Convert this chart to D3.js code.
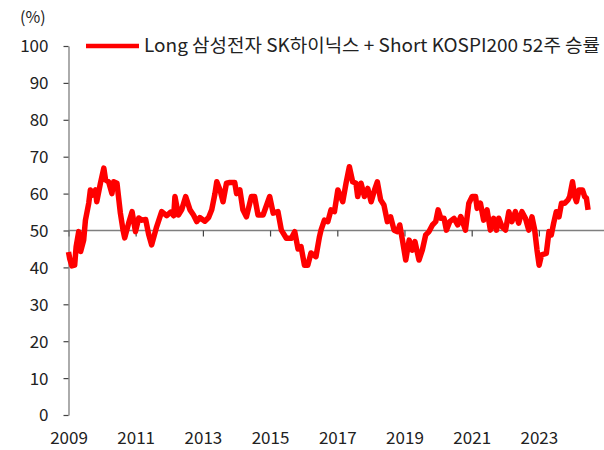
<!DOCTYPE html>
<html>
<head>
<meta charset="utf-8">
<script src="https://cdn.jsdelivr.net/npm/d3@7"></script>
<style>
  body { margin: 0; background: #fff; }
  text { font-family: "Noto Sans CJK KR", "Noto Sans", sans-serif; fill: #222; }
</style>
</head>
<body>
<div id="chart-1"></div>
<script>
var seriesName = "Long 삼성전자 SK하이닉스 + Short KOSPI200 52주 승률";

var dates = [
  "2009-01-01","2009-01-15","2009-02-07","2009-03-09","2009-03-25","2009-04-22","2009-05-13","2009-06-15",
  "2009-07-04","2009-08-09","2009-08-27","2009-09-22","2009-10-21","2009-11-04","2009-12-14",
  "2010-01-20","2010-02-08","2010-03-13","2010-04-18","2010-05-07","2010-06-12","2010-07-19",
  "2010-08-17","2010-09-04","2010-10-17","2010-11-23","2010-12-30",
  "2011-02-04","2011-03-10","2011-04-20","2011-05-22","2011-06-24","2011-08-17","2011-10-11","2011-12-04",
  "2012-01-17","2012-02-19","2012-03-03","2012-04-10","2012-05-15","2012-06-28","2012-08-14",
  "2012-09-21","2012-10-26","2012-11-28",
  "2013-01-22","2013-03-04","2013-04-07","2013-05-12","2013-06-01","2013-07-06","2013-08-08",
  "2013-09-14","2013-10-20","2013-12-13",
  "2014-01-02","2014-02-07","2014-03-12","2014-04-19","2014-06-12","2014-07-17","2014-08-23",
  "2014-10-17","2014-12-28",
  "2015-02-04","2015-03-28","2015-05-04","2015-06-27","2015-08-21","2015-09-26","2015-11-01","2015-12-04",
  "2016-01-10","2016-02-15","2016-03-21","2016-05-14","2016-06-21","2016-07-08","2016-08-14",
  "2016-09-20","2016-10-25","2016-12-01",
  "2017-01-07","2017-03-01","2017-04-06","2017-05-12","2017-06-17","2017-07-23","2017-08-11",
  "2017-09-16","2017-10-23","2017-11-28",
  "2018-01-04","2018-02-10","2018-03-12","2018-04-17","2018-05-23","2018-06-29","2018-08-04",
  "2018-09-10","2018-10-17","2018-11-11","2018-12-10",
  "2019-01-15","2019-02-21","2019-03-27","2019-04-25","2019-06-08","2019-07-14","2019-08-20",
  "2019-09-25","2019-11-01","2019-12-07",
  "2020-01-02","2020-02-01","2020-03-06","2020-04-01","2020-05-07","2020-06-23","2020-08-02",
  "2020-09-04","2020-10-25","2020-12-01",
  "2021-01-06","2021-02-12","2021-03-01","2021-04-06","2021-05-11","2021-06-17","2021-07-23",
  "2021-08-28","2021-09-27","2021-10-22","2021-11-27",
  "2022-01-04","2022-02-09","2022-03-14","2022-04-21","2022-05-26","2022-07-01","2022-08-08",
  "2022-09-13","2022-10-18","2022-11-17","2022-12-12",
  "2023-01-04","2023-01-30","2023-03-23","2023-04-21","2023-05-16","2023-06-11","2023-07-10",
  "2023-08-08","2023-09-04","2023-10-09","2023-11-14","2023-12-02",
  "2024-01-02","2024-01-26","2024-02-14","2024-03-12","2024-04-19","2024-05-13","2024-06-01","2024-06-19"
];

var values = [
  44.2,42.3,40.4,40.6,45.6,49.7,44.3,47.4,
  52.8,57.4,61.0,59.6,61.0,57.8,62.8,
  66.9,63.7,63.2,60.0,63.2,62.8,54.7,
  50.1,48.0,52.0,55.1,49.7,
  53.4,52.8,53.0,49.0,46.1,51.0,55.1,54.0,
  55.0,54.0,59.2,54.2,55.6,59.2,55.6,
  54.2,52.4,53.5,
  52.5,53.5,55.6,60.0,63.2,61.0,57.8,
  62.8,63.0,63.0,
  60.0,61.0,55.6,53.7,59.2,59.2,54.2,
  54.2,59.2,
  54.7,55.1,50.1,47.9,47.9,49.7,45.0,45.6,
  40.6,40.6,43.9,42.9,48.3,50.1,52.8,
  52.4,55.6,55.1,
  61.0,57.8,62.8,67.3,63.2,62.8,59.2,
  62.8,59.2,61.4,
  57.8,61.0,63.2,58.3,56.9,52.4,53.7,
  50.1,49.7,51.5,47.4,
  42.0,47.4,44.7,47.0,42.0,44.7,48.8,
  49.7,51.5,52.4,
  55.6,53.3,53.3,50.1,52.4,53.3,51.5,
  53.8,50.1,57.4,
  59.2,59.2,56.0,57.4,52.8,55.6,50.1,
  53.3,50.1,53.3,51.0,
  50.1,55.1,52.4,55.1,52.0,55.1,53.3,
  50.1,53.7,50.1,44.7,
  40.6,43.4,43.8,49.7,48.8,52.0,55.1,
  53.7,57.4,57.4,58.3,59.2,
  63.2,59.2,57.8,61.0,61.0,59.2,58.8,55.6
];

var yTicks = [0, 10, 20, 30, 40, 50, 60, 70, 80, 90, 100];
var xTickYears = [2009, 2011, 2013, 2015, 2017, 2019, 2021, 2023];

var parseDate = d3.timeParse("%Y-%m-%d");
var data = dates.map(function(d, i){ return {date: parseDate(d), value: values[i]}; });

var W = 604, H = 450;
var margin = {top: 46, left: 68.5, bottom: 35};

var svg = d3.select("#chart-1").append("svg")
    .attr("width", W).attr("height", H);

var x = d3.scaleTime()
    .domain([new Date(2009, 0, 1), new Date(2025, 0, 1)])
    .range([margin.left, margin.left + 33.6 * 16]);

var y = d3.scaleLinear()
    .domain([0, 100])
    .range([H - margin.bottom, margin.top]);

var xTickDates = xTickYears.map(function(yr){ return new Date(yr, 0, 1); });

// x axis line sits at 50, labels at the bottom
var xAxis = svg.append("g")
    .attr("transform", "translate(0," + y(50) + ")")
    .call(d3.axisBottom(x).tickValues(xTickDates).tickFormat("").tickSize(6).tickSizeOuter(0));
xAxis.select(".domain").attr("stroke", "#7f7f7f").attr("stroke-width", 1.3)
    .attr("d", "M" + margin.left + ",0H" + W);
xAxis.selectAll(".tick line").attr("stroke", "#444").attr("stroke-width", 1.2);

var xLabels = svg.append("g")
    .attr("transform", "translate(0," + (H - margin.bottom) + ")")
    .call(d3.axisBottom(x).tickValues(xTickDates).tickFormat(d3.timeFormat("%Y")).tickSize(0));
xLabels.select(".domain").remove();
xLabels.selectAll("text").attr("dy", 0).attr("y", 29).style("font-size", "17px").style("fill", "#222");

// y axis
var yAxis = svg.append("g")
    .attr("transform", "translate(" + margin.left + ",0)")
    .call(d3.axisLeft(y).tickValues(yTicks).tickSize(5).tickSizeOuter(0).tickPadding(15));
yAxis.select(".domain").attr("stroke", "#7f7f7f").attr("stroke-width", 1.3);
yAxis.selectAll(".tick line").attr("stroke", "#444").attr("stroke-width", 1.2);
yAxis.selectAll("text").style("font-size", "17px").style("fill", "#222").attr("dy", "0.35em");

svg.append("text")
    .attr("x", 20).attr("y", 23)
    .style("font-size", "16px")
    .text("(%)");

// Add the valueline path.
var valueline = d3.line()
    .x(function(d){ return x(d.date); })
    .y(function(d){ return y(d.value); });

svg.append("path")
    .attr("d", valueline(data))
    .style("fill", "none")
    .style("stroke", "#ff0000")
    .style("stroke-width", "5.5px")
    .style("stroke-linejoin", "round");

// legend
var lg = svg.append("g").attr("transform", "translate(86," + y(100) + ")");
lg.append("line").attr("x1", 0).attr("x2", 53).attr("y1", 0).attr("y2", 0)
    .attr("stroke", "#ff0000").attr("stroke-width", 4.5);
lg.append("text").attr("x", 58).attr("dy", "0.35em")
    .style("font-size", "18px")
    .attr("textLength", 456)
    .attr("lengthAdjust", "spacingAndGlyphs")
    .text(seriesName);
</script>
</body>
</html>
